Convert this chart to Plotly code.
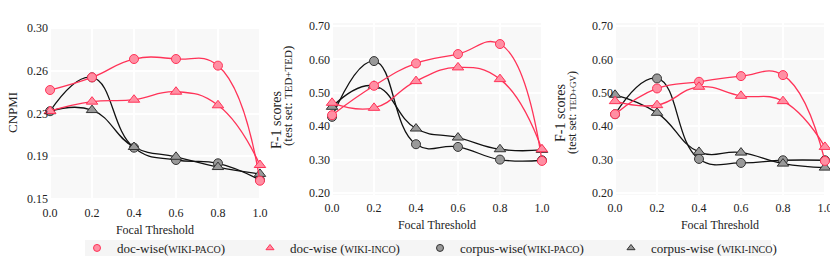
import plotly.graph_objects as go

thresholds = [0.0, 0.2, 0.4, 0.6, 0.8, 1.0]

# Panel 1: CNPMI
cnpmi_doc_paco = [0.2456, 0.2567, 0.2728, 0.2728, 0.2670, 0.1660]
cnpmi_doc_inco = [0.2272, 0.2354, 0.2371, 0.2441, 0.2322, 0.1798]
cnpmi_corp_paco = [0.2270, 0.2567, 0.1950, 0.1842, 0.1813, 0.1667]
cnpmi_corp_inco = [0.2270, 0.2280, 0.1956, 0.1870, 0.1780, 0.1720]

# Panel 2: F-1 (test set TED+TED)
tt_doc_paco = [0.433, 0.521, 0.588, 0.616, 0.646, 0.296]
tt_doc_inco = [0.470, 0.455, 0.535, 0.576, 0.541, 0.331]
tt_corp_paco = [0.428, 0.595, 0.346, 0.338, 0.300, 0.298]
tt_corp_inco = [0.458, 0.521, 0.393, 0.366, 0.331, 0.329]

# Panel 3: F-1 (test set TED+GV)
tg_doc_paco = [0.436, 0.513, 0.533, 0.550, 0.553, 0.296]
tg_doc_inco = [0.475, 0.463, 0.518, 0.491, 0.475, 0.338]
tg_corp_paco = [0.436, 0.543, 0.302, 0.290, 0.298, 0.298]
tg_corp_inco = [0.494, 0.440, 0.323, 0.321, 0.288, 0.276]

cnpmi_ticks = [0.15, 0.1875, 0.225, 0.2625, 0.30]
cnpmi_ticktext = ["0.15", "0.19", "0.23", "0.26", "0.30"]
f1_ticks = [0.2, 0.3, 0.4, 0.5, 0.6, 0.7]
f1_ticktext = ["0.20", "0.30", "0.40", "0.50", "0.60", "0.70"]
x_ticks = [0.0, 0.2, 0.4, 0.6, 0.8, 1.0]
x_ticktext = ["0.0", "0.2", "0.4", "0.6", "0.8", "1.0"]

SC = "<span style='font-size:10px'>%s</span>"
names = [
    "doc-wise(" + SC % "WIKI-PACO" + ")",
    "doc-wise (" + SC % "WIKI-INCO" + ")",
    "corpus-wise(" + SC % "WIKI-PACO" + ")",
    "corpus-wise (" + SC % "WIKI-INCO" + ")",
]

RED = "#ff3358"
RED_FILL = "#ff8fa3"
BLACK = "#111111"
GRAY_FILL = "#999999"

styles = [
    dict(line=RED, fill=RED_FILL, edge=RED, symbol="circle"),
    dict(line=RED, fill=RED_FILL, edge=RED, symbol="triangle-up"),
    dict(line=BLACK, fill=GRAY_FILL, edge="#333333", symbol="circle"),
    dict(line=BLACK, fill=GRAY_FILL, edge="#333333", symbol="triangle-up"),
]

panels = [
    [cnpmi_corp_paco, cnpmi_corp_inco, cnpmi_doc_paco, cnpmi_doc_inco],
    [tt_corp_paco, tt_corp_inco, tt_doc_paco, tt_doc_inco],
    [tg_corp_paco, tg_corp_inco, tg_doc_paco, tg_doc_inco],
]
order = [2, 3, 0, 1]  # draw corpus-wise first, doc-wise on top

fig = go.Figure()
for p, series in enumerate(panels):
    xa = "x" if p == 0 else "x%d" % (p + 1)
    ya = "y" if p == 0 else "y%d" % (p + 1)
    for k, ys in zip(order, series):
        st = styles[k]
        fig.add_trace(go.Scatter(
            x=thresholds, y=ys, mode="lines+markers",
            line=dict(color=st["line"], width=1.3, shape="spline", smoothing=1.3),
            marker=dict(symbol=st["symbol"], size=9 if st["symbol"] == "circle" else 10,
                        color=st["fill"], line=dict(color=st["edge"], width=1)),
            xaxis=xa, yaxis=ya, showlegend=False, cliponaxis=False,
        ))

legend_ids = ["legend", "legend2", "legend3", "legend4"]
for k in range(4):
    st = styles[k]
    fig.add_trace(go.Scatter(
        x=[None], y=[None], mode="markers", name=names[k],
        marker=dict(symbol=st["symbol"], size=7, color=st["fill"],
                    line=dict(color=st["edge"], width=1)),
        showlegend=True, legend=legend_ids[k],
    ))

W, H = 830, 256
FONT = "Liberation Serif"

def px_dom_x(a, b):
    return [a / W, b / W]

def px_dom_y(top, bottom):
    return [1 - bottom / H, 1 - top / H]

xdoms = [px_dom_x(49, 261), px_dom_x(331, 543), px_dom_x(614, 826)]
ydoms = [px_dom_y(27, 200), px_dom_y(23, 195), px_dom_y(23, 195)]
yranges = [[0.1491, 0.3009], [0.194, 0.709], [0.194, 0.709]]

layout = dict(
    width=W, height=H,
    margin=dict(l=0, r=0, t=0, b=0, autoexpand=False),
    paper_bgcolor="white", plot_bgcolor="#f8f8f8",
    font=dict(family=FONT, size=13, color="#222222"),
)
legend_marker_px = [96, 269, 439, 630]
for k, lid in enumerate(legend_ids):
    layout[lid] = dict(
        orientation="h", x=(legend_marker_px[k] - 19) / W, xanchor="left",
        y=1 - 248 / H, yanchor="middle", bgcolor="rgba(0,0,0,0)",
        font=dict(size=13, family=FONT), itemwidth=30,
    )
for p in range(3):
    sx = "" if p == 0 else str(p + 1)
    layout["xaxis" + sx] = dict(
        domain=xdoms[p], range=[-0.005, 1.005], anchor="y" + sx, automargin=False,
        tickvals=x_ticks, ticktext=x_ticktext, showgrid=True, gridcolor="white",
        gridwidth=1.5, zeroline=False, showline=False, ticks="", ticklabelstandoff=4,
        ticklabeloverflow="allow",
        tickfont=dict(size=12, family=FONT),
        title=dict(text="Focal Threshold", font=dict(size=12, family=FONT), standoff=6),
    )
    layout["yaxis" + sx] = dict(
        domain=ydoms[p], range=yranges[p], anchor="x" + sx, automargin=False,
        tickvals=cnpmi_ticks if p == 0 else f1_ticks,
        ticktext=cnpmi_ticktext if p == 0 else f1_ticktext,
        showgrid=True, gridcolor="white", gridwidth=1.5, zeroline=False,
        showline=False, ticks="", tickfont=dict(size=12, family=FONT),
    )
fig.update_layout(**layout)

# legend background strip
fig.add_shape(type="rect", xref="paper", yref="paper", layer="below",
              x0=85 / W, x1=771 / W, y0=0, y1=1 - 240 / H,
              fillcolor="#f5f5f5", line=dict(width=0))

ann = [
    dict(text="CNPMI", x=12 / W, y=1 - 113 / H, font=dict(size=13, family=FONT)),
    dict(text="F-1 scores", x=276 / W, y=1 - 120 / H, font=dict(size=14, family=FONT)),
    dict(text="(test set: " + "<span style='font-size:11px'>TED+TED</span>" + ")", x=287 / W, y=1 - 96 / H, font=dict(size=13, family=FONT)),
    dict(text="F-1 scores", x=560 / W, y=1 - 113 / H, font=dict(size=14, family=FONT)),
    dict(text="(test set: " + "<span style='font-size:9px'>TED+GV</span>" + ")", x=572 / W, y=1 - 113 / H, font=dict(size=12, family=FONT)),
]
for a in ann:
    fig.add_annotation(xref="paper", yref="paper", showarrow=False, textangle=-90,
                       xanchor="center", yanchor="middle", **a)

fig.write_html("out.html", config={"displayModeBar": False},
               post_script="document.body.style.margin='0';")
